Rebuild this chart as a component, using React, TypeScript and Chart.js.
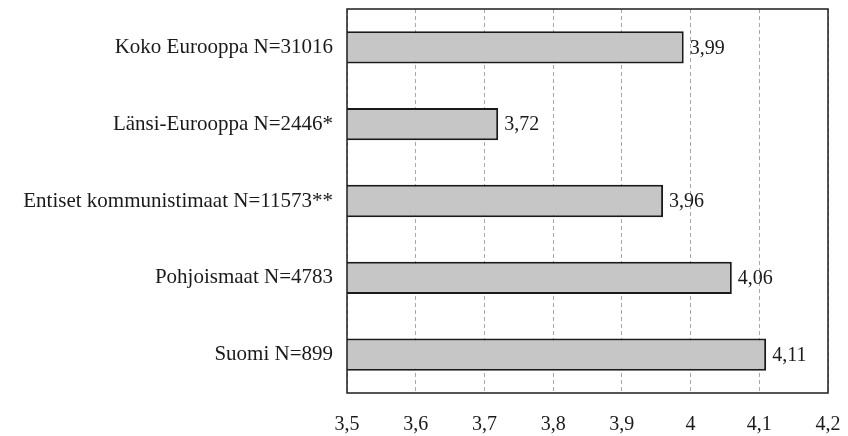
import React, { useEffect, useRef } from "react";
import { Chart, registerables } from "chart.js";

Chart.register(...registerables);

const categories = [
  "Koko Eurooppa N=31016",
  "Länsi-Eurooppa N=2446*",
  "Entiset kommunistimaat N=11573**",
  "Pohjoismaat N=4783",
  "Suomi N=899",
];
const values = [3.99, 3.72, 3.96, 4.06, 4.11];
const tickLabels = ["3,5", "3,6", "3,7", "3,8", "3,9", "4", "4,1", "4,2"];
const axisMin = 3.5;
const axisMax = 4.2;

const FONT = "'Liberation Serif', 'Times New Roman', serif";

const frame = {
  id: "frame",
  afterDatasetsDraw(chart: any) {
    const { ctx, chartArea } = chart;
    ctx.save();
    ctx.strokeStyle = "#1e1e1e";
    ctx.lineWidth = 1.5;
    ctx.strokeRect(
      chartArea.left,
      chartArea.top,
      chartArea.right - chartArea.left,
      chartArea.bottom - chartArea.top
    );
    ctx.restore();
  },
};

const valueLabels = {
  id: "valueLabels",
  afterDatasetsDraw(chart: any) {
    const { ctx } = chart;
    const meta = chart.getDatasetMeta(0);
    ctx.save();
    ctx.font = `20px ${FONT}`;
    ctx.fillStyle = "#1a1a1a";
    ctx.textAlign = "left";
    ctx.textBaseline = "middle";
    meta.data.forEach((bar: any, i: number) => {
      const txt = values[i].toFixed(2).replace(".", ",");
      ctx.fillText(txt, bar.x + 6, bar.y + 1);
    });
    ctx.restore();
  },
};

export default function App() {
  const ref = useRef<HTMLCanvasElement | null>(null);
  useEffect(() => {
    if (!ref.current) return;
    const chart = new Chart(ref.current, {
      type: "bar",
      data: {
        labels: categories,
        datasets: [
          {
            data: values,
            backgroundColor: "#c6c6c6",
            borderColor: "#1a1a1a",
            borderWidth: 2,
            borderSkipped: false,
            barPercentage: 0.42,
            categoryPercentage: 1,
          },
        ],
      },
      options: {
        indexAxis: "y",
        animation: false,
        responsive: false,
        maintainAspectRatio: false,
        layout: { padding: { left: 0, right: 20, top: 9, bottom: 0 } },
        plugins: {
          legend: { display: false },
          tooltip: { enabled: false },
        },
        scales: {
          x: {
            min: axisMin,
            max: axisMax,
            ticks: {
              stepSize: 0.1,
              color: "#1a1a1a",
              font: { family: FONT, size: 20 },
              padding: 20,
              maxRotation: 0,
              autoSkip: false,
              callback: (_v: any, i: number) => tickLabels[i],
            },
            grid: {
              color: "#a8a8a8",
              lineWidth: 1,
              drawTicks: false,
            },
            border: { display: false, dash: [4, 3] },
            afterFit: (s: any) => {
              s.height = 43;
              s.paddingLeft = 0;
              s.paddingRight = 0;
            },
          },
          y: {
            ticks: {
              color: "#1a1a1a",
              font: { family: FONT, size: 21 },
              padding: 14,
            },
            grid: { display: false, drawTicks: false },
            border: { display: false },
            afterFit: (s: any) => {
              s.width = 347;
              s.paddingTop = 0;
              s.paddingBottom = 0;
            },
          },
        },
      },
      plugins: [frame, valueLabels],
    });
    return () => chart.destroy();
  }, []);
  return (
    <div style={{ position: "fixed", left: 0, top: 0, width: 848, height: 436, background: "#fff" }}>
      <canvas ref={ref} width={848} height={436} style={{ width: 848, height: 436 }} />
    </div>
  );
}
